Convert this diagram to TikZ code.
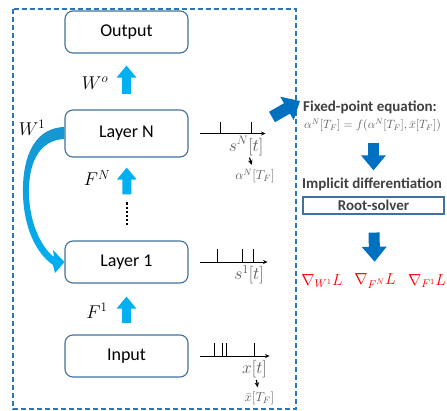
\RequirePackage{fix-cm}
\documentclass[tikz,border=0pt]{standalone}
\usepackage{fontspec}
\setmainfont{Carlito}
\usetikzlibrary{arrows.meta, positioning}

\definecolor{boxline}{RGB}{65,113,156}
\definecolor{lightblue}{RGB}{0,176,240}
\definecolor{wtop}{RGB}{22,150,210}
\definecolor{darkblue}{RGB}{0,112,192}
\definecolor{framecol}{RGB}{46,117,182}
\definecolor{sigray}{RGB}{89,89,89}
\definecolor{darktext}{RGB}{64,64,64}

\begin{document}
\begin{tikzpicture}[x=1pt, y=-1pt, node distance=100pt and 100pt, on grid,
	block/.style={rectangle, draw=boxline, line width=1.1pt, rounded corners=8pt, minimum width=123pt, minimum height=42pt, fill=white, font=\fontsize{18}{20}\selectfont},
	rsbox/.style={rectangle, draw=boxline, line width=1.1pt, minimum width=141pt, minimum height=17pt, inner sep=0pt, text=darktext, font=\bfseries\fontsize{15}{17}\selectfont},
	up/.style={draw=lightblue, line width=9pt, -{Triangle[width=19pt, length=12pt]}},
	down/.style={draw=darkblue, line width=11pt, -{Triangle[width=24pt, length=15pt]}},
	big/.style={draw=darkblue, line width=12pt, -{Triangle[width=26pt, length=15pt]}},
	axis/.style={line width=0.9pt, -{Stealth[length=4.5pt, width=4pt]}},
	spike/.style={line width=0.9pt},
	pointer/.style={line width=1.2pt, -{Stealth[length=5pt, width=4.5pt]}, shorten <=2pt, shorten >=4pt},
	sig/.style={text=sigray, inner sep=0pt, font=\fontsize{17.5}{19}\selectfont},
	sml/.style={text=sigray, inner sep=0pt, font=\fontsize{13}{14}\selectfont},
	wlbl/.style={inner sep=0pt, font=\fontsize{18.5}{20}\selectfont},
	rtext/.style={text=darktext, inner sep=0pt, anchor=west, font=\bfseries\fontsize{15}{17}\selectfont},
	grad/.style={text=red, inner sep=0pt, font=\fontsize{16}{18}\selectfont},
	frame/.style={draw=framecol, line width=1.8pt, dash pattern=on 5pt off 3pt}]

\useasboundingbox (0,0) rectangle (447,410);
\draw[frame] (13,9) rectangle (296,409);

% Layers
\node[block] (in) at (126.5,356) {Input};
\node[block, above=94pt of in] (l1) {Layer 1};
\node[block, above=128.5pt of l1, minimum height=47pt] (ln) {Layer N};
\node[block, above=101.5pt of ln] (out) {Output};
\node[inner sep=0pt, minimum height=22pt, minimum width=2pt] (dots) at (127,213.5) {};
\draw[line width=2.2pt, dash pattern=on 2.2pt off 2pt] (dots.north) -- (dots.south);

% Weights
\node[wlbl] (wo) at (95,83) {$W^o$};
\node[wlbl] (fn) at (97,178) {$F^N$};
\node[wlbl] (f1) at (97,311) {$F^1$};
\node[wlbl] (w1) at (32,128) {$W^1$};

\draw[up, shorten <=15pt, shorten >=12pt] (ln) -- (out);
\draw[up, shorten <=8pt, shorten >=10pt] (dots) -- (ln);
\draw[up, shorten <=11pt, shorten >=13pt] (in) -- (l1);

% Recurrent connection
\shade[top color=wtop, bottom color=lightblue]
	([yshift=6.5pt]ln.west) .. controls (30,128) and (22,165) .. (23,195)
	.. controls (24,228) and (36,253) .. (53,265)
	-- (55,273) -- (l1.west) -- (53,250) -- (54,257)
	.. controls (42,248) and (30,225) .. (29,195)
	.. controls (28,165) and (38,140) .. ([yshift=-5.5pt]ln.west) -- cycle;

% Spike trains
\draw[axis] ([xshift=11pt]ln.east) coordinate (tN) -- ++(66,0);
\foreach \s in {21,52} \draw[spike] (tN) ++(\s,0) -- ++(0,-12);
\draw[axis] ([xshift=11pt]l1.east) coordinate (t1) -- ++(68,0);
\foreach \s in {18,43,54} \draw[spike] (t1) ++(\s,0) -- ++(0,-13);
\draw[axis] ([xshift=11pt]in.east) coordinate (t0) -- ++(70,0);
\foreach \s in {15,23,27,55} \draw[spike] (t0) ++(\s,0) -- ++(0,-13);

\node[sig] (sN) at (246,146) {$s^N[t]$};
\node[sml] (alN) at (255,176) {$\alpha^N[T_F]$};
\node[sig] (s1) at (249,275) {$s^1[t]$};
\node[sig] (xt) at (254.5,369) {$x[t]$};
\node[sml] (xb) at (259.5,398) {$\bar{x}[T_F]$};
\draw[pointer] (sN) -- (alN);
\draw[pointer] (xt) -- (xb);

% Solver side
\coordinate (tailN) at (272,117);
\coordinate (tipN) at (300,101);
\draw[big] (tailN) -- (tipN);

\node[rtext] (fp) at (303,107) {Fixed-point equation:};
\node[inner sep=0pt, anchor=west, text=sigray, font=\fontsize{12}{13}\selectfont] (eq) at (304,125) {$\alpha^N[T_F]=f(\alpha^N[T_F],\bar{x}[T_F])$};
\node[rtext] (impl) at (302,184) {Implicit differentiation};
\node[rsbox] (rs) at (373.5,205.5) {Root-solver};
\node[grad] (gW) at (322,281) {$\nabla_{W^1}L$};
\node[grad] (gN) at (375,281) {$\nabla_{F^N}L$};
\node[grad] (gF) at (427,281) {$\nabla_{F^1}L$};

\draw[down, shorten <=11pt, shorten >=7pt] (eq.south -| rs.north) -- (impl.north -| rs.north);
\draw[down, shorten <=18pt, shorten >=12pt] (rs) -- (gN);
\end{tikzpicture}
\end{document}
